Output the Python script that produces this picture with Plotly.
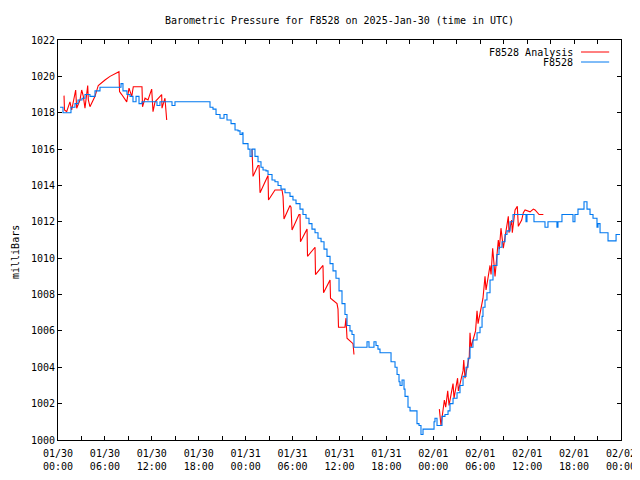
import pandas as pd
import plotly.graph_objects as go

# ---- data (hours after 2025-01-30 00:00 UTC, pressure in mb) ----
obs_hours = [0.26, 0.64, 1.28, 1.66, 2.17, 2.56, 3.07, 3.45, 4.09, 4.73, 5.37, 6.65, 7.93, 8.06, 8.31,
             8.82, 9.21, 9.59, 9.98, 10.36, 10.74, 11.77, 12.41, 12.66, 13.04, 14.32, 14.58, 14.96, 16.24,
             18.16, 19.06, 19.44, 19.82, 20.21, 20.72, 21.23, 21.61, 22.13, 22.64, 23.02, 23.28, 23.53,
             23.66, 24.30, 24.56, 24.81, 25.19, 25.58, 25.96, 26.22, 26.60, 26.86, 27.37, 27.75, 28.14,
             28.52, 29.03, 29.67, 30.05, 30.44, 30.95, 31.33, 31.72, 32.10, 32.48, 32.87, 33.25, 33.64,
             34.02, 34.40, 34.79, 35.17, 35.55, 35.94, 36.32, 36.70, 36.96, 37.34, 37.60, 37.85, 38.62,
             39.26, 39.52, 39.77, 40.16, 40.41, 40.67, 40.92, 41.18, 42.20, 42.59, 43.10, 43.36, 43.61,
             43.74, 44.00, 44.25, 44.38, 44.76, 45.02, 45.66, 45.91, 46.17, 46.42, 46.68, 47.83, 48.09,
             48.21, 48.47, 48.85, 49.11, 49.49, 49.88, 50.13, 50.52, 51.03, 51.41, 51.80, 52.18, 52.44,
             52.69, 53.07, 53.59, 53.97, 54.23, 54.35, 54.61, 54.86, 55.25, 55.63, 56.14, 56.40, 56.78,
             57.17, 57.42, 57.81, 58.19, 59.73, 59.85, 59.98, 60.75, 60.87, 62.02, 62.28, 62.53, 62.66,
             63.55, 63.81, 63.94, 64.45, 65.73, 65.86, 66.11, 66.50, 67.01, 67.27, 67.65, 68.04, 68.42,
             68.93, 69.06, 69.32, 70.22, 70.34, 70.98, 71.37, 71.88]
obs_mb = [1018.3, 1018.0, 1018.0, 1018.3, 1018.5, 1018.7, 1018.8, 1019.0, 1018.9, 1019.2, 1019.4, 1019.4,
          1019.4, 1019.6, 1019.2, 1019.0, 1018.9, 1018.6, 1018.9, 1018.5, 1018.6, 1018.6, 1018.6, 1018.4,
          1018.6, 1018.6, 1018.4, 1018.6, 1018.6, 1018.6, 1018.6, 1018.3, 1018.2, 1017.9, 1017.7, 1017.9,
          1017.6, 1017.4, 1017.05, 1017.0, 1016.8, 1016.9, 1016.3, 1016.0, 1015.6, 1016.0, 1015.6, 1015.3,
          1015.0, 1014.85, 1014.8, 1014.6, 1014.3, 1014.2, 1014.0, 1013.8, 1013.6, 1013.4, 1013.2, 1013.0,
          1012.7, 1012.4, 1012.2, 1011.9, 1011.6, 1011.4, 1011.1, 1010.9, 1010.5, 1010.1, 1009.7, 1009.3,
          1008.9, 1008.2, 1007.5, 1006.9, 1006.3, 1006.0, 1005.8, 1005.1, 1005.1, 1005.1, 1005.4, 1005.1,
          1005.1, 1005.4, 1005.2, 1005.0, 1004.8, 1004.8, 1004.3, 1004.0, 1003.6, 1003.2, 1003.0, 1003.3,
          1002.8, 1002.4, 1001.8, 1001.6, 1001.6, 1000.9, 1000.8, 1000.3, 1000.6, 1000.6, 1001.0, 1001.2,
          1000.8, 1000.8, 1001.3, 1001.4, 1001.6, 1002.0, 1002.3, 1002.6, 1003.0, 1003.5, 1004.0, 1004.5,
          1005.1, 1005.5, 1005.9, 1006.2, 1006.8, 1007.3, 1007.7, 1008.1, 1008.8, 1009.6, 1010.2, 1010.6,
          1010.9, 1011.3, 1011.5, 1012.0, 1012.4, 1012.4, 1012.0, 1012.4, 1012.4, 1012.0, 1012.0, 1011.7,
          1011.7, 1012.0, 1012.0, 1011.7, 1012.0, 1012.4, 1012.4, 1012.0, 1012.4, 1012.7, 1012.7, 1013.1,
          1012.7, 1012.4, 1012.2, 1011.7, 1011.9, 1011.4, 1011.4, 1010.95, 1010.95, 1011.3, 1011.3]

ana_hours = [0.77, 0.83, 1.11, 1.53, 1.75, 2.17, 2.26, 2.39, 2.81, 3.03, 3.24, 3.45, 3.80, 3.88, 4.09,
             4.73, 4.95, 5.15, 6.01, 6.65, 7.80, 7.87, 8.15, 8.79, 9.08, 9.43, 9.63, 10.74, 10.81, 11.13,
             11.51, 11.98, 12.15, 12.41, 13.26, 13.30, 13.68, 13.90,
             None,
             24.81, 24.94, 25.58, 25.71, 25.84, 26.73, 26.86, 26.92, 27.75, 28.65, 28.78, 28.90, 29.67,
             29.80, 29.93, 30.82, 30.95, 31.01, 31.85, 31.91, 32.87, 32.93, 33.89, 33.96, 34.79, 34.85,
             35.68, 35.81, 35.87, 36.70, 36.83, 36.96, 37.73, 37.85,
             None,
             48.77, 48.98, 49.41, 49.58, 49.84, 50.01, 50.52, 50.65, 51.10, 51.20, 51.80, 51.89, 52.05,
             52.60, 52.69, 52.82, 53.40, 53.59, 53.72, 54.35, 54.61, 54.74, 54.95, 55.25, 55.38, 55.59,
             55.89, 56.31, 56.44, 56.65, 56.95, 57.25, 57.59, 57.68, 58.02, 58.10, 58.45, 58.74, 58.87,
             59.30, 59.51, 59.73, 60.15, 60.37, 60.79, 61.01, 61.52, 62.07]
ana_mb = [1018.94, 1018.15, 1018.06, 1018.6, 1018.15, 1019.0, 1019.25, 1018.25, 1018.7, 1019.25, 1018.9,
          1018.25, 1019.5, 1018.7, 1018.33, 1018.9, 1019.25, 1019.5, 1019.8, 1020.0, 1020.26, 1019.16,
          1019.0, 1018.6, 1019.35, 1018.9, 1019.43, 1019.43, 1018.33, 1018.8, 1018.7, 1019.3, 1018.06,
          1018.6, 1019.0, 1018.25, 1018.8, 1017.6,
          None,
          1016.0, 1014.5, 1015.1, 1015.1, 1013.6, 1014.5, 1014.55, 1013.2, 1013.75, 1013.75, 1013.4,
          1012.15, 1012.9, 1012.8, 1011.55, 1012.4, 1012.4, 1010.9, 1011.6, 1010.1, 1010.6, 1009.1,
          1009.6, 1008.1, 1008.8, 1007.8, 1007.5, 1007.2, 1006.2, 1006.2, 1006.7, 1005.6, 1005.3, 1004.7,
          None,
          1001.7, 1000.8, 1002.2, 1001.8, 1002.7, 1001.9, 1003.1, 1002.3, 1003.4, 1002.7, 1003.8, 1004.4,
          1003.4, 1004.6, 1005.9, 1005.1, 1006.0, 1007.1, 1006.4, 1007.8, 1009.0, 1008.25, 1008.8,
          1009.6, 1009.1, 1010.55, 1009.0, 1011.0, 1010.5, 1011.65, 1010.55, 1011.4, 1012.3, 1011.4,
          1012.1, 1011.4, 1012.65, 1012.85, 1011.75, 1012.1, 1012.5, 1012.65, 1012.6, 1012.55, 1012.7,
          1012.65, 1012.4, 1012.4]

ana_name = "F8528 Analysis"
obs_name = "F8528"
title_text = "Barometric Pressure for F8528 on 2025-Jan-30 (time in UTC)"
y_label = "milliBars"

base = pd.Timestamp("2025-01-30 00:00:00")


def to_time(hours):
    return [None if h is None else base + pd.Timedelta(hours=h) for h in hours]


RED = "#ff0000"
BLUE = "#0078f0"
FONT = "DejaVu Sans Mono"

# the page body has an 8px margin, so the figure is 8px smaller and margins compensate
W, H = 632, 472

fig = go.Figure()
fig.add_trace(go.Scatter(x=to_time(ana_hours), y=ana_mb, mode="lines", name=ana_name,
                         line=dict(color=RED, width=1.1), connectgaps=False))
fig.add_trace(go.Scatter(x=to_time(obs_hours), y=obs_mb, mode="lines", name=obs_name,
                         line=dict(color=BLUE, width=1.1, shape="hv")))

# gnuplot-style legend (text left of line sample)
for i, (name, col) in enumerate([(ana_name, RED), (obs_name, BLUE)]):
    yp = 0.970 - i * 0.025
    fig.add_annotation(xref="paper", yref="paper", x=0.918, y=yp, text=name, showarrow=False,
                       xanchor="right", yanchor="middle", font=dict(family=FONT, size=10, color="black"))
    fig.add_shape(type="line", xref="paper", yref="paper", x0=0.929, x1=0.979, y0=yp, y1=yp,
                  line=dict(color=col, width=1))

fig.add_annotation(xref="paper", yref="paper", x=-0.0764, y=0.47, text=y_label, textangle=-90,
                   showarrow=False, xanchor="center", yanchor="middle",
                   font=dict(family=FONT, size=10, color="black"))

fig.update_layout(
    width=W, height=H,
    margin=dict(l=50, r=19, t=32, b=40, autoexpand=False),
    paper_bgcolor="white", plot_bgcolor="white",
    showlegend=False,
    font=dict(family=FONT, size=10, color="black"),
    title=dict(text=title_text, x=0.5, xref="paper", y=1 - 12 / H, yref="container",
               xanchor="center", yanchor="middle", font=dict(family=FONT, size=10, color="black")),
)
fig.update_xaxes(
    type="date", automargin=False,
    range=[base, base + pd.Timedelta(hours=72)],
    tick0=base, dtick=6 * 3600 * 1000, tickformat="%m/%d<br>%H:%M",
    ticks="inside", ticklen=4, tickcolor="black", tickwidth=1, ticklabelstandoff=4,
    minor=dict(dtick=3 * 3600 * 1000, ticks="inside", ticklen=4, tickcolor="black", showgrid=False),
    showline=True, linecolor="black", linewidth=1, mirror="ticks",
    showgrid=False, zeroline=False,
)
fig.update_yaxes(
    automargin=False,
    range=[1000, 1022], dtick=2, tick0=1000,
    ticks="inside", ticklen=4, tickcolor="black", tickwidth=1,
    showline=True, linecolor="black", linewidth=1, mirror="ticks",
    showgrid=False, zeroline=False,
)

fig.write_html("out.html")
